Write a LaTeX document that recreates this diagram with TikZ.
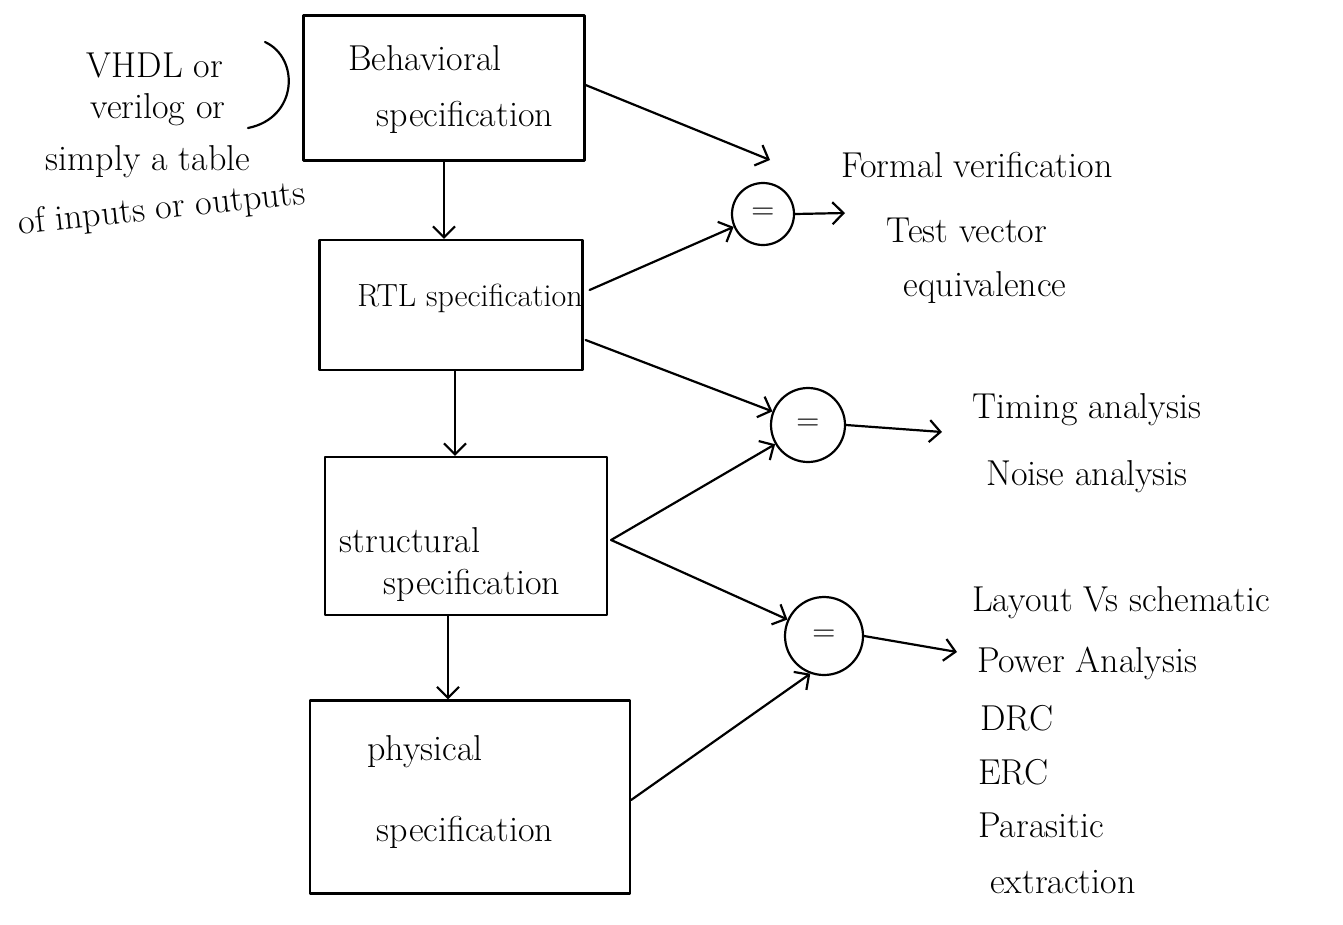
\documentclass[tikz,border=0pt]{standalone}
\usetikzlibrary{arrows.meta,calc}
\begin{document}
\begin{tikzpicture}[x=1pt,y=-1pt,
  ink/.style={line width=2.2pt,line cap=round,line join=round},
  stagebox/.style={ink,draw,rectangle,inner sep=0pt},
  cmpnode/.style={ink,draw,circle,inner sep=0pt,font=\fontsize{32}{32}\selectfont},
  flow/.style={ink,-{Straight Barb[length=11pt,width=22pt,line width=2.2pt]}},
  txt/.style={font=\fontsize{36}{40}\selectfont,inner sep=0pt},
  ltxt/.style={txt,anchor=west}]
\useasboundingbox (0,0) rectangle (1343,924);

% the four specification stages
\node[stagebox,minimum width=281pt,minimum height=145pt] (beh)  at (444,88)  {};
\node[stagebox,minimum width=263pt,minimum height=130pt] (rtl)  at (451,305) {};
\node[stagebox,minimum width=282pt,minimum height=158pt] (str)  at (466,536) {};
\node[stagebox,minimum width=320pt,minimum height=193pt] (phy)  at (470,797) {};

\node[txt] (behA) at (425,58)  {Behavioral};
\node[txt] (behB) at (465,117) {specification};
\node[txt,font=\fontsize{32}{36}\selectfont] (rtlA) at (470,298) {RTL specification};
\node[txt] (strA) at (410,540) {structural};
\node[txt] (strB) at (472,585) {specification};
\node[txt] (phyA) at (425,752) {physical};
\node[txt] (phyB) at (465,832) {specification};

% equivalence checks
\node[cmpnode,minimum size=62pt] (c1) at (763,214) {=};
\node[cmpnode,minimum size=74pt] (c2) at (808,425) {=};
\node[cmpnode,minimum size=78pt] (c3) at (824,636) {=};

% downward flow between stages
\draw[flow] (beh.south) -- (beh.south |- rtl.north);
\draw[flow] ([xshift=4pt]rtl.south) -- ([xshift=4pt]rtl.south |- str.north);
\draw[flow] ([xshift=-18pt]str.south) -- ([xshift=-18pt]str.south |- phy.north);

% inputs to the checks
\coordinate (t1) at (770,160);
\draw[flow] ([yshift=3pt]beh.east) -- (t1);
\draw[flow] ([xshift=6pt,yshift=15pt]rtl.east) -- (c1);
\draw[flow] ([xshift=2pt,yshift=-35pt]rtl.east) -- (c2);
\draw[flow] ([xshift=3pt,yshift=-4pt]str.east) -- (c2);
\draw[flow] ([xshift=3pt,yshift=-4pt]str.east) -- (c3);
\draw[flow] ([yshift=-3pt]phy.east) -- (c3.250);

% outputs of the checks
\coordinate (o1) at (845,213);
\coordinate (o2) at (942,432);
\coordinate (o3) at (957,652);
\draw[flow] (c1.east) -- (o1);
\draw[flow] (c2.east) -- (o2);
\draw[flow] (c3.east) -- (o3);

% results
\node[txt] (r1a) at (977,165) {Formal verification};
\node[txt] (r1b) at (967,230) {Test vector};
\node[txt] (r1c) at (985,288) {equivalence};
\node[txt] (r2a) at (1087,410) {Timing analysis};
\node[txt] (r2b) at (1087,477) {Noise analysis};
\node[ltxt] (r3a) at (972,603) {Layout Vs schematic};
\node[ltxt] (r3b) at (977,663) {Power Analysis};
\node[ltxt] (r3c) at (980,718) {DRC};
\node[ltxt] (r3d) at (978,772) {ERC};
\node[ltxt] (r3e) at (978,825) {Parasitic};
\node[ltxt] (r3f) at (990,882) {extraction};

% note on the behavioral description
\node[txt] (n1) at (155,65)  {VHDL or};
\node[txt] (n2) at (158,110) {verilog or};
\node[txt] (n3) at (148,162) {simply a table};
\node[txt,rotate=6] (n4) at (162,210) {of inputs or outputs};
\draw[ink] (265,42) .. controls (300,58) and (298,118) .. (248,128);
\end{tikzpicture}
\end{document}
